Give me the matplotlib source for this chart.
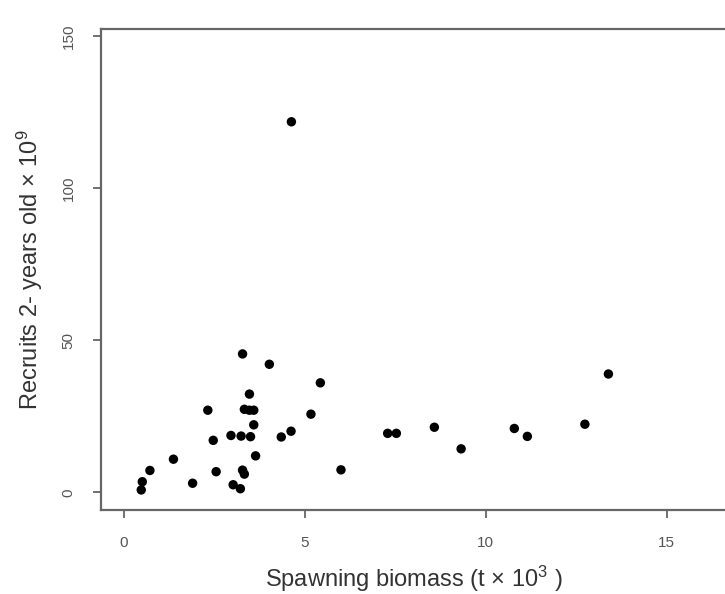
import matplotlib
matplotlib.use("Agg")
import matplotlib.pyplot as plt

# Spawning biomass (t x 10^3) vs recruits aged 2 (x 10^9)
biomasa = [3.28, 4.02, 5.43, 3.47, 2.32, 3.33, 3.47, 3.59, 5.17, 3.59,
           4.62, 4.35, 2.96, 3.24, 3.50, 2.47, 3.64, 1.37, 0.72, 2.55,
           3.28, 3.33, 6.00, 0.51, 0.48, 1.90, 3.02, 3.22, 4.63,
           7.29, 7.53, 8.58, 9.32, 10.79, 11.15, 12.74, 13.39]
reclutas = [45.5, 42.1, 36.0, 32.3, 27.0, 27.3, 27.0, 27.0, 25.7, 22.2,
            20.1, 18.2, 18.7, 18.5, 18.3, 17.1, 12.0, 10.9, 7.2, 6.8,
            7.3, 6.0, 7.4, 3.5, 0.8, 3.0, 2.5, 1.2, 121.8,
            19.4, 19.4, 21.4, 14.3, 21.0, 18.4, 22.4, 38.9]

xticks = [0, 5, 10, 15]
yticks = [0, 50, 100, 150]

plt.rcParams['font.family'] = ['Liberation Sans', 'DejaVu Sans']
plt.rcParams['mathtext.fontset'] = 'custom'
plt.rcParams['mathtext.rm'] = 'Liberation Sans'
plt.rcParams['mathtext.it'] = 'Liberation Sans'

fig = plt.figure(figsize=(7.25, 5.94), dpi=100)
ax = fig.add_axes([0.1389, 0.1414, 0.8625, 0.8093])

ax.scatter(biomasa, reclutas, s=46, color='black', edgecolors='none', zorder=3)

ax.set_xlim(-0.64, 16.64)
ax.set_ylim(-5.8, 152.2)
ax.set_xticks(xticks)
ax.set_yticks(yticks)
ax.set_xticklabels([str(t) for t in xticks], color='#555555', fontsize=11)
ax.set_yticklabels([str(t) for t in yticks], color='#555555', fontsize=11,
                   rotation=90, va='center')
ax.tick_params(direction='out', length=6, width=1.3, color='#666666', pad=13)
ax.tick_params(axis='y', pad=12)

for sp in ax.spines.values():
    sp.set_color('#666666')
    sp.set_linewidth(1.6)

ax.set_xlabel('Spawning biomass (t \u00d7 10$\\mathregular{^{3}}$ )', fontsize=17,
              color='#333333', labelpad=10)
ax.set_ylabel('Recruits 2- years old \u00d7 10$\\mathregular{^{9}}$', fontsize=17,
              color='#333333', labelpad=12)

fig.savefig('out.png', dpi=100)
